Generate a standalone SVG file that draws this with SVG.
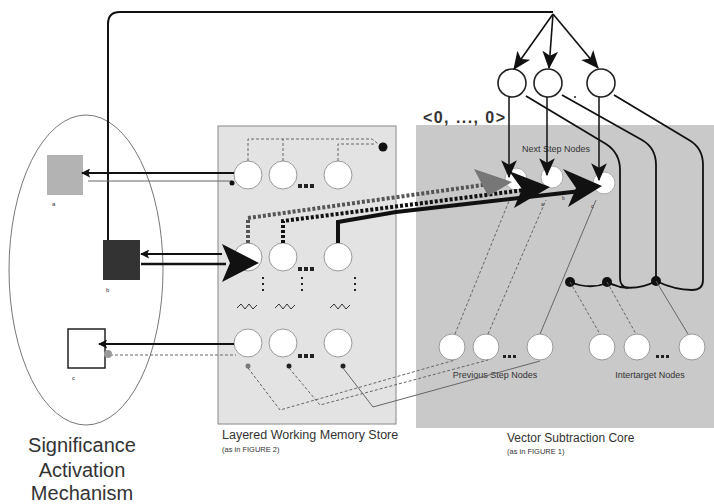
<svg xmlns="http://www.w3.org/2000/svg" width="714" height="504" viewBox="0 0 714 504">
<style>
.lbl{font-family:"Liberation Sans",Arial,sans-serif;fill:#333}
.node{fill:#fff;stroke:#999;stroke-width:1}
.topnode{fill:#fff;stroke:#222;stroke-width:1.6}
.blk{stroke:#111;fill:none}
.thin{stroke:#666;fill:none;stroke-width:1}
.dash{stroke:#666;fill:none;stroke-width:1;stroke-dasharray:3,2}
.dots{fill:#222}
</style>
<defs>
<marker id="ah" viewBox="0 0 12 12" refX="11" refY="6" markerWidth="12" markerHeight="12" markerUnits="userSpaceOnUse" orient="auto">
<path d="M0,0 L12,6 L0,12 L3,6 Z" fill="#111"/>
</marker>
<marker id="ahBig" viewBox="0 0 16 16" refX="15" refY="8" markerWidth="18" markerHeight="18" markerUnits="userSpaceOnUse" orient="auto">
<path d="M0,1 L16,8 L0,15 L4,8 Z" fill="#111"/>
</marker>
<marker id="ahS" viewBox="0 0 10 10" refX="9" refY="5" markerWidth="9" markerHeight="9" markerUnits="userSpaceOnUse" orient="auto">
<path d="M0,0 L10,5 L0,10 L2,5 Z" fill="#111"/>
</marker>
</defs>
<rect width="714" height="504" fill="#fff"/>

<g id="sam">
<ellipse cx="86" cy="270" rx="77" ry="155" fill="none" stroke="#777" stroke-width="1"/>
<text class="lbl" x="82" y="452" font-size="20" text-anchor="middle" fill="#444">Significance</text>
<text class="lbl" x="82" y="477" font-size="20" text-anchor="middle" fill="#444">Activation</text>
<text class="lbl" x="82" y="500" font-size="20" text-anchor="middle" fill="#444">Mechanism</text>
</g>
<g id="square-a">
<rect x="47" y="155" width="36" height="40" fill="#b3b3b3"/>
<text class="lbl" x="52" y="206" font-size="6">a</text>
</g>
<g id="square-b">
<rect x="103" y="240" width="37" height="40" fill="#333"/>
<text class="lbl" x="106" y="292" font-size="6">b</text>
</g>
<g id="square-c">
<rect x="68" y="329" width="37" height="39" fill="#fff" stroke="#222" stroke-width="1.5"/>
<text class="lbl" x="72" y="380" font-size="6">c</text>
</g>

<g id="lwms">
<rect x="218" y="126" width="178" height="298" fill="#e3e3e3" stroke="#888" stroke-width="1"/>
<text class="lbl" x="222" y="439" font-size="12.5">Layered Working Memory Store</text>
<text class="lbl" x="222" y="452" font-size="7.5">(as in FIGURE 2)</text>
</g>
<g id="core">
<rect x="416" y="125" width="300" height="303" fill="#c9c9c9"/>
<text class="lbl" x="507" y="442" font-size="12">Vector Subtraction Core</text>
<text class="lbl" x="507" y="454" font-size="7.5">(as in FIGURE 1)</text>
<text class="lbl" x="556" y="152" font-size="9" text-anchor="middle">Next Step Nodes</text>
<text class="lbl" x="495" y="378" font-size="9" text-anchor="middle">Previous Step Nodes</text>
<text class="lbl" x="650" y="378" font-size="9" text-anchor="middle">Intertarget Nodes</text>
</g>
<text class="lbl" x="423" y="123" font-size="16" font-weight="bold" fill="#222" textLength="82">&lt;0, ..., 0&gt;</text>

<g id="lwms-nodes">
<circle class="node" cx="248" cy="175" r="14"/>
<circle class="node" cx="283" cy="175" r="14"/>
<circle class="node" cx="338" cy="175" r="14"/>
<circle class="node" cx="248" cy="257" r="14"/>
<circle class="node" cx="283" cy="257" r="14"/>
<circle class="node" cx="338" cy="257" r="14"/>
<circle class="node" cx="248" cy="343" r="14"/>
<circle class="node" cx="283" cy="343" r="14"/>
<circle class="node" cx="338" cy="343" r="14"/>
<g class="dots">
<rect x="298" y="184" width="4" height="4"/><rect x="304" y="184" width="4" height="4"/><rect x="310" y="184" width="4" height="4"/>
<rect x="298" y="267" width="4" height="4"/><rect x="304" y="267" width="4" height="4"/><rect x="310" y="267" width="4" height="4"/>
<rect x="298" y="354" width="4" height="4"/><rect x="304" y="354" width="4" height="4"/><rect x="310" y="354" width="4" height="4"/>
<rect x="262" y="277" width="2" height="2"/><rect x="262" y="283" width="2" height="2"/><rect x="262" y="289" width="2" height="2"/>
<rect x="301" y="277" width="2" height="2"/><rect x="301" y="283" width="2" height="2"/><rect x="301" y="289" width="2" height="2"/>
<rect x="354" y="277" width="2" height="2"/><rect x="354" y="283" width="2" height="2"/><rect x="354" y="289" width="2" height="2"/>
</g>
<path d="M237,308 l4,-4 l4,5 l4,-5 l4,5 l4,-4 M275,308 l4,-4 l4,5 l4,-5 l4,5 l4,-4 M330,308 l4,-4 l4,5 l4,-5 l4,5 l4,-4" stroke="#333" stroke-width="1" fill="none"/>
</g>

<g id="top-nodes">
<circle class="topnode" cx="512" cy="83" r="14"/>
<circle class="topnode" cx="548" cy="83" r="14"/>
<circle class="topnode" cx="601" cy="83" r="14"/>
<circle cx="575" cy="97" r="1" fill="#222"/>
</g>

<g id="core-nodes">
<circle class="node" cx="452" cy="347" r="13"/>
<circle class="node" cx="486" cy="347" r="13"/>
<circle class="node" cx="540" cy="347" r="13"/>
<circle class="node" cx="602" cy="347" r="13"/>
<circle class="node" cx="637" cy="347" r="13"/>
<circle class="node" cx="692" cy="347" r="13"/>
<g class="dots">
<rect x="503" y="355" width="3" height="3"/><rect x="508" y="355" width="3" height="3"/><rect x="513" y="355" width="3" height="3"/>
<rect x="656" y="355" width="3" height="3"/><rect x="661" y="355" width="3" height="3"/><rect x="666" y="355" width="3" height="3"/>
</g>
<circle cx="516" cy="179" r="11" fill="#fff" stroke="#aaa"/>
<circle cx="552" cy="177" r="11" fill="#fff" stroke="#aaa"/>
<circle cx="604" cy="183" r="11" fill="#fff" stroke="#aaa"/>
</g>

<g id="connectors">
<!-- feedback loop from top to b -->
<path d="M108,240 V24 Q108,12 120,12 H553" class="blk" stroke-width="2"/>
<path d="M553,14 L514,69" class="blk" stroke-width="1.6" marker-end="url(#ahBig)"/>
<path d="M553,14 L549,68" class="blk" stroke-width="1.6" marker-end="url(#ahBig)"/>
<path d="M553,14 L598,68" class="blk" stroke-width="1.6" marker-end="url(#ahBig)"/>

<!-- top nodes to next step nodes -->
<path d="M509,97 V177" class="blk" stroke-width="1.5" marker-end="url(#ahBig)"/>
<path d="M547,97 V175" class="blk" stroke-width="1.5" marker-end="url(#ahBig)"/>
<path d="M599,97 V180" class="blk" stroke-width="1.5" marker-end="url(#ahBig)"/>

<!-- curved lines to intertarget layer -->
<path d="M526,96 L606,144 Q620,153 620,170 V278 Q620,287 628,288" class="blk" stroke-width="1.8"/>
<path d="M562,95 L642,140 Q656,148 656,165 V281" class="blk" stroke-width="1.8"/>
<path d="M614,95 L689,140 Q703,148 703,165 V280 Q703,290 692,290 Q675,290 656,281 Q640,290 620,287 Q612,284 607,283 Q590,290 570,282" class="blk" stroke-width="1.8"/>
<circle cx="570" cy="282" r="5" fill="#111"/>
<circle cx="607" cy="282" r="5" fill="#111"/>
<circle cx="656" cy="281" r="5" fill="#111"/>
<path d="M570,282 L600,334" class="dash"/>
<path d="M607,282 L636,334" class="dash"/>
<path d="M656,281 L688,334" class="thin"/>

<!-- previous step nodes up to next step nodes -->
<path d="M455,334 L511,196" class="dash"/>
<path d="M488,334 L546,200" class="dash"/>
<path d="M540,334 L596,200" class="thin"/>

<!-- LWMS bottom row to previous step nodes -->
<circle cx="248" cy="366" r="2.5" fill="#777"/>
<circle cx="289" cy="366" r="2.5" fill="#222"/>
<circle cx="343" cy="366" r="2.5" fill="#222"/>
<path d="M248,368 L280,410 L455,360" class="dash" stroke="#888"/>
<path d="M289,368 L320,405 L488,360" class="dash" stroke="#555"/>
<path d="M343,368 L373,407 L540,361" class="thin" stroke="#444"/>

<!-- LWMS top row: dashed to black dot -->
<path d="M248,161 V139 H372 L382,147" class="dash"/>
<path d="M283,161 V139" class="dash"/>
<path d="M338,161 V144 H376" class="dash"/>
<circle cx="383" cy="147" r="4.5" fill="#111"/>

<!-- to square a -->
<path d="M234,173 H82" class="blk" stroke-width="1.8" marker-end="url(#ahS)"/>
<path d="M88,181 H232" class="thin" stroke="#777"/>
<circle cx="232" cy="183" r="2.5" fill="#111"/>

<!-- b to middle row -->
<path d="M222,254 H141" class="blk" stroke-width="2" marker-end="url(#ahS)"/>
<path d="M141,264 H226" class="blk" stroke-width="2.5"/>
<path d="M222,244 L259,263 L222,282 L230,263 Z" fill="#111"/>

<!-- to square c -->
<path d="M234,344 H99" class="blk" stroke-width="1.8" marker-end="url(#ahS)"/>
<path d="M110,355 H236" class="dash" stroke="#999"/>
<circle cx="108" cy="354" r="4" fill="#999"/>

<!-- middle row to next step nodes -->
<path d="M248,243 V218 L490,184" fill="none" stroke="#555" stroke-width="4" stroke-dasharray="3,2"/>
<path d="M283,243 V221 L540,188" fill="none" stroke="#111" stroke-width="4" stroke-dasharray="3,2"/>
<path d="M338,243 V222 L396,212 L590,190" fill="none" stroke="#111" stroke-width="4"/>
<path d="M474,169 L512,182 L488,196 Z" fill="#777"/>
<path d="M509,171 L550,187 L514,208 L522,189 Z" fill="#111"/>
<path d="M563,169 L602,186 L568,207 L576,188 Z" fill="#111"/>
<text class="lbl" x="541" y="206" font-size="5">a</text>
<text class="lbl" x="562" y="200" font-size="5">b</text>
<text class="lbl" x="591" y="208" font-size="5">c</text>
</g>
</svg>
